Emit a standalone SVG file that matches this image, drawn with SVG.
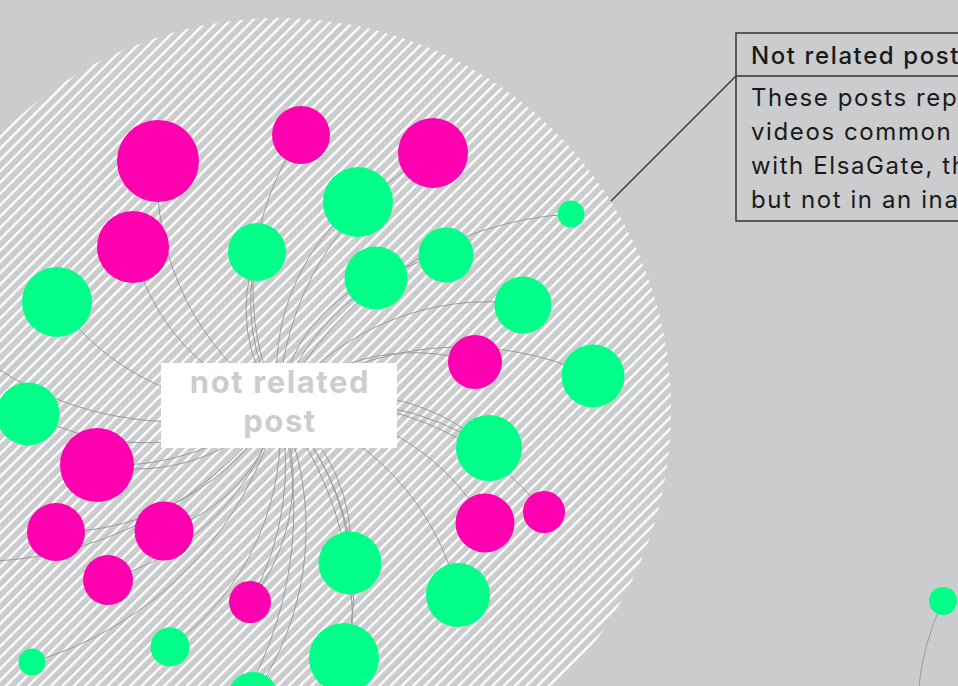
<svg xmlns="http://www.w3.org/2000/svg" width="958" height="686" viewBox="0 0 958 686">
<style>
.bg{fill:#cbcccd}
.m{fill:#ff00b0}
.g{fill:#00ff88}
.e{fill:none;stroke:#9a9a9a;stroke-width:1}
.lbl{font-family:Inter,"Liberation Sans",sans-serif;font-weight:700;font-size:31px;fill:#cdcdcd;letter-spacing:1.6px;text-anchor:middle}
.card{fill:none;stroke:#333;stroke-width:1.5}
.ct{font-family:Inter,"Liberation Sans",sans-serif;font-size:24px;fill:#1a1a1a;letter-spacing:1.6px}
</style>
<defs>
<pattern id="hatch" patternUnits="userSpaceOnUse" width="8" height="8" patternTransform="rotate(45)">
<rect x="0" y="0" width="2.3" height="8" fill="#ffffff"/>
</pattern>
</defs>
<rect class="bg" x="0" y="0" width="958" height="686"/>
<circle cx="279" cy="410" r="392" fill="url(#hatch)"/>
<g id="connectors">
<path class="e" d="M279,405 A272,272 0 0,1 158,161"/>
<path class="e" d="M279,405 A215,215 0 0,1 133,247"/>
<path class="e" d="M279,405 A271,271 0 0,1 301,135"/>
<path class="e" d="M279,405 A155,155 0 0,1 257,252"/>
<path class="e" d="M279,405 A200,200 0 0,1 257,252"/>
<path class="e" d="M279,405 A218,218 0 0,1 358,202"/>
<path class="e" d="M279,405 A295,295 0 0,1 433,153"/>
<path class="e" d="M279,405 A160,160 0 0,1 376,278"/>
<path class="e" d="M279,405 A224,224 0 0,1 445,255"/>
<path class="e" d="M279,405 A349,349 0 0,1 571,214"/>
<path class="e" d="M279,405 A264,264 0 0,1 523,304"/>
<path class="e" d="M279,405 A200,200 0 0,1 474,362"/>
<path class="e" d="M279,405 A315,315 0 0,1 593,376"/>
<path class="e" d="M279,405 A214,214 0 0,1 489,448"/>
<path class="e" d="M279,405 A300,300 0 0,1 489,448"/>
<path class="e" d="M279,405 A286,286 0 0,1 544,512"/>
<path class="e" d="M279,405 A237,237 0 0,1 485,523"/>
<path class="e" d="M279,405 A261,261 0 0,1 458,595"/>
<path class="e" d="M279,405 A173,173 0 0,1 350,563"/>
<path class="e" d="M279,405 A240,240 0 0,1 350,563"/>
<path class="e" d="M279,405 A259,259 0 0,1 344,658"/>
<path class="e" d="M279,405 A199,199 0 0,1 250,602"/>
<path class="e" d="M279,405 A280,280 0 0,1 250,602"/>
<path class="e" d="M279,405 A294,294 0 0,1 253,697"/>
<path class="e" d="M279,405 A265,265 0 0,1 170,647"/>
<path class="e" d="M279,405 A356,356 0 0,1 32,662"/>
<path class="e" d="M279,405 A244,244 0 0,1 108,579"/>
<path class="e" d="M279,405 A171,171 0 0,1 164,531"/>
<path class="e" d="M279,405 A257,257 0 0,1 56,532"/>
<path class="e" d="M279,405 A192,192 0 0,1 97,465"/>
<path class="e" d="M279,405 A260,260 0 0,1 97,465"/>
<path class="e" d="M279,405 A245,245 0 0,1 57,302"/>
<path class="e" d="M279,405 A251,251 0 0,1 28,413"/>
<path class="e" d="M279,405 A326,326 0 0,1 -40,340"/>
<path class="e" d="M279,405 A373,373 0 0,1 -60,560"/>
<path class="e" d="M279,405 A356,356 0 0,1 320,770"/>
<path class="e" d="M279,405 A378,378 0 0,1 190,770"/>
<path class="e" d="M929,790 A260,260 0 0,1 943,601"/>
<path d="M736,76 L611,201" fill="none" stroke="#333" stroke-width="1.3"/>
</g>
<g id="n-m1"><circle class="m" cx="158" cy="161" r="41"/></g>
<g id="n-m2"><circle class="m" cx="301" cy="135" r="29"/></g>
<g id="n-m3"><circle class="m" cx="433" cy="153" r="35"/></g>
<g id="n-m4"><circle class="m" cx="133" cy="247" r="36"/></g>
<g id="n-m5"><circle class="m" cx="475" cy="362" r="27"/></g>
<g id="n-m6"><circle class="m" cx="97" cy="465" r="37"/></g>
<g id="n-m7"><circle class="m" cx="56" cy="532" r="29"/></g>
<g id="n-m8"><circle class="m" cx="164" cy="531" r="29.5"/></g>
<g id="n-m9"><circle class="m" cx="108" cy="580" r="25"/></g>
<g id="n-m10"><circle class="m" cx="250" cy="602" r="21"/></g>
<g id="n-m11"><circle class="m" cx="485" cy="523" r="29.5"/></g>
<g id="n-m12"><circle class="m" cx="544" cy="512" r="21"/></g>
<g id="n-g1"><circle class="g" cx="358" cy="202" r="35"/></g>
<g id="n-g2"><circle class="g" cx="257" cy="252" r="29"/></g>
<g id="n-g3"><circle class="g" cx="376" cy="278" r="31.5"/></g>
<g id="n-g4"><circle class="g" cx="446" cy="255" r="27.5"/></g>
<g id="n-g5"><circle class="g" cx="571" cy="214" r="13.5"/></g>
<g id="n-g6"><circle class="g" cx="523" cy="305" r="28.5"/></g>
<g id="n-g7"><circle class="g" cx="593" cy="376" r="31.5"/></g>
<g id="n-g8"><circle class="g" cx="489" cy="448" r="33"/></g>
<g id="n-g9"><circle class="g" cx="57" cy="302" r="35"/></g>
<g id="n-g10"><circle class="g" cx="28" cy="414" r="31.5"/></g>
<g id="n-g11"><circle class="g" cx="350" cy="563" r="31.5"/></g>
<g id="n-g12"><circle class="g" cx="458" cy="595" r="32"/></g>
<g id="n-g13"><circle class="g" cx="170" cy="647" r="19.5"/></g>
<g id="n-g14"><circle class="g" cx="32" cy="662" r="13.5"/></g>
<g id="n-g15"><circle class="g" cx="344" cy="658" r="35"/></g>
<g id="n-g16"><circle class="g" cx="253" cy="697" r="25"/></g>
<g id="n-g17"><circle class="g" cx="943" cy="601" r="14"/></g>
<g id="hub">
<rect x="161" y="363" width="236" height="85" fill="#ffffff"/>
<text class="lbl" x="280" y="393">not related</text>
<text class="lbl" x="280" y="432">post</text>
</g>
<g id="card">
<rect class="card" x="736" y="33" width="240" height="188"/>
<line class="card" x1="736" y1="76" x2="976" y2="76"/>
<text class="ct" x="751" y="64" style="font-weight:500">Not related post</text>
<text class="ct" x="751" y="106">These posts rep</text>
<text class="ct" x="751" y="140">videos common</text>
<text class="ct" x="751" y="174">with ElsaGate, th</text>
<text class="ct" x="751" y="208">but not in an ina</text>
</g>
</svg>
